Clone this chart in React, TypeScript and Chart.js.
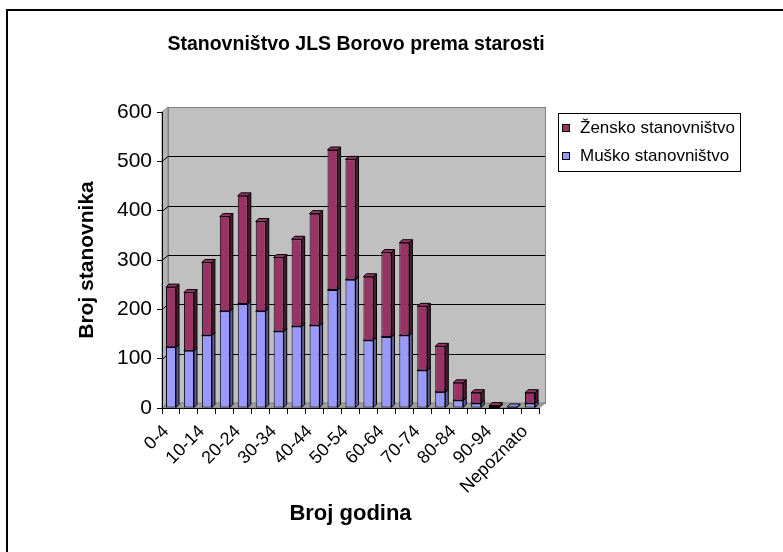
import React, { useEffect, useRef } from 'react';
import { Chart, registerables } from 'chart.js';

Chart.register(...registerables);

const categories = ['0-4', '5-9', '10-14', '15-19', '20-24', '25-29', '30-34', '35-39', '40-44', '45-49', '50-54', '55-59', '60-64', '65-69', '70-74', '75-79', '80-84', '85-89', '90-94', '95 i više', 'Nepoznato'];
const muskoValues = [123, 116, 147, 196, 211, 196, 155, 165, 167, 239, 260, 137, 144, 147, 76, 32, 15, 9, 1, 2, 9];
const zenskoValues = [122, 118, 148, 192, 219, 182, 150, 177, 227, 284, 244, 129, 171, 188, 130, 93, 36, 22, 4, 0, 22];
const seriesLabels = ['Muško stanovništvo', 'Žensko stanovništvo'];
const yMin = 0;
const yMax = 600;
const yStep = 100;
const titleText = 'Stanovništvo JLS Borovo prema starosti';
const yAxisTitle = 'Broj stanovnika';
const xAxisTitle = 'Broj godina';

const MALE = '#9999FF';
const MALE_SIDE = '#5c5c99';
const FEMALE = '#993366';
const FEMALE_SIDE = '#4d1a33';
const WALL = '#C0C0C0';
const FONT = "'Liberation Sans', Arial, sans-serif";

const DX = 6;
const DY = 5;
const BD = 3;

const framePlugin = {
  id: 'frame',
  beforeDraw(chart: any) {
    const ctx = chart.ctx;
    ctx.save();
    ctx.strokeStyle = '#000';
    ctx.lineWidth = 2;
    ctx.strokeRect(7, 10, 800, 600);
    // chart title
    ctx.fillStyle = '#000';
    ctx.font = `bold 19.5px ${FONT}`;
    ctx.textAlign = 'center';
    ctx.textBaseline = 'middle';
    ctx.fillText(titleText, 356, 45);
    const { left, right, top, bottom } = chart.chartArea;
    // back wall
    ctx.fillStyle = WALL;
    ctx.fillRect(left + DX, top - DY, right - left, bottom - top);
    ctx.strokeStyle = '#808080';
    ctx.lineWidth = 1;
    ctx.strokeRect(left + DX + 0.5, top - DY + 0.5, right - left, bottom - top);
    // left wall
    ctx.beginPath();
    ctx.moveTo(left, top);
    ctx.lineTo(left + DX, top - DY);
    ctx.lineTo(left + DX, bottom - DY);
    ctx.lineTo(left, bottom);
    ctx.closePath();
    ctx.fillStyle = '#B4B4B4';
    ctx.fill();
    ctx.stroke();
    // floor
    ctx.beginPath();
    ctx.moveTo(left, bottom);
    ctx.lineTo(left + DX, bottom - DY);
    ctx.lineTo(right + DX, bottom - DY);
    ctx.lineTo(right, bottom);
    ctx.closePath();
    ctx.fillStyle = '#A0A0A0';
    ctx.fill();
    ctx.stroke();
    // gridlines on walls
    const ys = chart.scales.y;
    ctx.strokeStyle = '#000';
    ctx.lineWidth = 1;
    ys.ticks.forEach((t: any) => {
      if (t.value === yMin || t.value === yMax) return;
      const y = Math.round(ys.getPixelForValue(t.value)) + 0.5;
      ctx.beginPath();
      ctx.moveTo(left, y);
      ctx.lineTo(left + DX, y - DY);
      ctx.lineTo(right + DX, y - DY);
      ctx.stroke();
    });
    ctx.restore();
  },
};

const bar3dPlugin = {
  id: 'bar3d',
  beforeDatasetsDraw(chart: any) {
    const ctx = chart.ctx;
    ctx.save();
    ctx.strokeStyle = '#000';
    ctx.lineWidth = 1;
    chart.data.datasets.forEach((ds: any, di: number) => {
      const meta = chart.getDatasetMeta(di);
      meta.data.forEach((el: any, i: number) => {
        if (!ds.data[i]) return;
        const p = el.getProps(['x', 'y', 'base', 'width'], true);
        const l = p.x - p.width / 2;
        const r = p.x + p.width / 2;
        const t = Math.min(p.y, p.base);
        const b = Math.max(p.y, p.base);
        ctx.beginPath();
        ctx.moveTo(r, b);
        ctx.lineTo(r + BD, b - BD);
        ctx.lineTo(r + BD, t - BD);
        ctx.lineTo(r, t);
        ctx.closePath();
        ctx.fillStyle = ds.sideColor;
        ctx.fill();
        ctx.stroke();
        ctx.beginPath();
        ctx.moveTo(l, t);
        ctx.lineTo(l + BD, t - BD);
        ctx.lineTo(r + BD, t - BD);
        ctx.lineTo(r, t);
        ctx.closePath();
        ctx.fillStyle = ds.backgroundColor;
        ctx.fill();
        ctx.stroke();
      });
    });
    ctx.restore();
  },
};

const legendPlugin = {
  id: 'boxLegend',
  afterDraw(chart: any) {
    const ctx = chart.ctx;
    ctx.save();
    ctx.strokeStyle = '#000';
    ctx.lineWidth = 1;
    ctx.strokeRect(558.5, 113.5, 182, 58);
    const items = chart.data.datasets.slice().reverse();
    ctx.font = `17px ${FONT}`;
    ctx.textBaseline = 'middle';
    ctx.textAlign = 'left';
    items.forEach((ds: any, i: number) => {
      const cy = 128 + i * 28;
      ctx.fillStyle = ds.backgroundColor;
      ctx.fillRect(562, cy - 4, 8, 8);
      ctx.strokeRect(562.5, cy - 3.5, 7, 7);
      ctx.fillStyle = '#000';
      ctx.fillText(ds.label, 580, cy);
    });
    ctx.restore();
  },
};

export default function App() {
  const ref = useRef<HTMLCanvasElement>(null);
  useEffect(() => {
    if (!ref.current) return;
    const chart = new Chart(ref.current, {
      type: 'bar',
      data: {
        labels: categories,
        datasets: [
          {
            label: seriesLabels[0],
            data: muskoValues,
            backgroundColor: MALE,
            sideColor: MALE_SIDE,
            borderColor: '#000',
            borderWidth: 1,
            borderSkipped: false,
            categoryPercentage: 1,
            barPercentage: 0.56,
          } as any,
          {
            label: seriesLabels[1],
            data: zenskoValues,
            backgroundColor: FEMALE,
            sideColor: FEMALE_SIDE,
            borderColor: '#000',
            borderWidth: 1,
            borderSkipped: false,
            categoryPercentage: 1,
            barPercentage: 0.56,
          } as any,
        ],
      },
      options: {
        responsive: false,
        animation: false,
        devicePixelRatio: 1,
        layout: { padding: { top: 112, left: 0, right: 0, bottom: 0 } },
        plugins: {
          legend: { display: false },
          tooltip: { enabled: false },
          title: { display: false },
        },
        scales: {
          x: {
            stacked: true,
            grid: { offset: true, drawOnChartArea: false, drawTicks: true, tickLength: 6, color: '#000' },
            border: { display: true, color: '#000', width: 1 },
            ticks: {
              autoSkip: false,
              minRotation: 45,
              maxRotation: 45,
              color: '#000',
              padding: 7,
              labelOffset: -5,
              font: { family: FONT, size: 18 },
              callback: (_v: any, i: number) => (i % 2 === 0 ? categories[i] : ''),
            },
            title: {
              display: true,
              text: xAxisTitle,
              color: '#000',
              font: { family: FONT, size: 22, weight: 'bold' },
              padding: { top: 0, bottom: 24.8 },
            },
            afterFit: (s: any) => { s.height = 144; },
          },
          y: {
            stacked: true,
            min: yMin,
            max: yMax,
            ticks: { stepSize: yStep, color: '#000', padding: 5, font: { family: FONT, size: 21 } },
            grid: { drawOnChartArea: false, drawTicks: true, tickLength: 5, color: '#000' },
            border: { display: true, color: '#000', width: 1 },
            title: {
              display: true,
              text: yAxisTitle,
              color: '#000',
              font: { family: FONT, size: 21, weight: 'bold' },
              padding: { top: 74.4, bottom: 0 },
            },
            afterFit: (s: any) => { s.width = 162; },
          },
          yR: {
            position: 'right',
            display: true,
            grid: { display: false },
            border: { display: false },
            ticks: { display: false },
            afterFit: (s: any) => { s.width = 244; },
          },
        },
      } as any,
      plugins: [framePlugin, bar3dPlugin, legendPlugin],
    });
    return () => chart.destroy();
  }, []);
  return (
    <div style={{ position: 'absolute', left: 0, top: 0, width: 783, height: 552, background: '#fff' }}>
      <canvas ref={ref} width={783} height={552} style={{ display: 'block' }} />
    </div>
  );
}
